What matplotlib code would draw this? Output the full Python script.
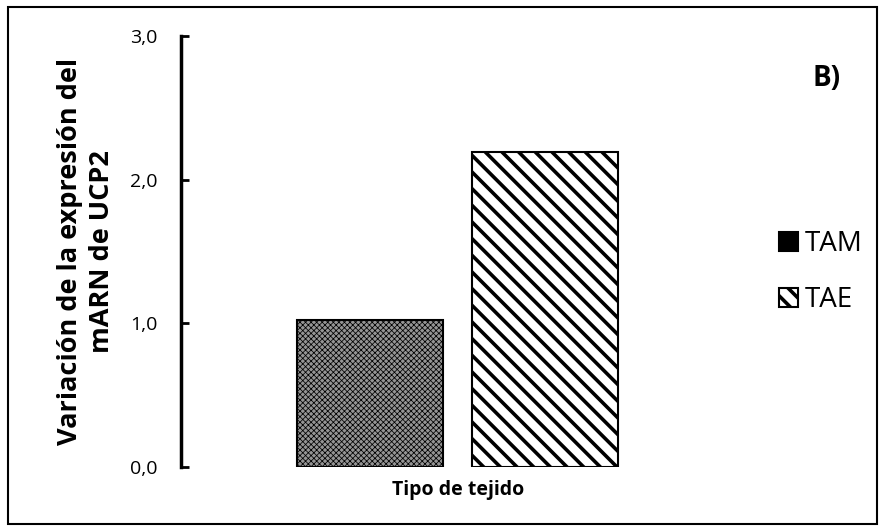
import matplotlib.pyplot as plt

plt.rcParams['font.family'] = ['Open Sans', 'DejaVu Sans']

# datos
categorias = ['TAM', 'TAE']
valores = [1.02, 2.19]
ticks_y = [0.0, 1.0, 2.0, 3.0]
etiquetas_y = ['0,0', '1,0', '2,0', '3,0']

fig = plt.figure(figsize=(8.84, 5.31), dpi=100)
ax = fig.add_axes([181 / 884, 1 - 467 / 531, (735 - 181) / 884, (467 - 36) / 531])

estilos = [dict(facecolor='#959595', hatch='xxxxxx'), dict(facecolor='white', hatch='\\\\')]
barras = []
for i, (cat, val) in enumerate(zip(categorias, valores)):
    plt.rcParams['hatch.linewidth'] = 0.55 if i == 0 else 2.6
    b = ax.bar(i, val, width=0.834, edgecolor='black', linewidth=1.5, label=cat, **estilos[i])
    barras.append(b)

ax.set_xlim(-1.08, 2.086)
ax.set_ylim(0, 3)
ax.set_yticks(ticks_y)
ax.set_yticklabels(etiquetas_y, fontsize=14)
ax.set_xticks([])
ax.tick_params(axis='y', direction='in', length=6, width=2, pad=17)
for s in ['top', 'right', 'bottom']:
    ax.spines[s].set_visible(False)
ax.spines['left'].set_linewidth(2.5)

ax.set_ylabel('Variación de la expresión del\nmARN de UCP2', fontsize=19.5, fontweight='bold', labelpad=11,
              linespacing=1.3)
ax.set_xlabel('Tipo de tejido', fontsize=14, fontweight='bold', labelpad=9)

fig.text(827 / 884, 1 - 78 / 531, 'B)', fontsize=20, fontweight='bold', ha='center', va='center')

fig.legend(handles=barras, labels=categorias, loc='center left', bbox_to_anchor=(779 / 884, 1 - 272 / 531),
           frameon=False, fontsize=20, handlelength=0.68, handleheight=0.68, handletextpad=0.25,
           labelspacing=1.0, borderpad=0, borderaxespad=0)

# marco exterior
fig.patches.append(plt.Rectangle((8 / 884, 7 / 531), 869 / 884, 517 / 531, transform=fig.transFigure,
                                 fill=False, edgecolor='black', linewidth=1.5))

fig.savefig('out.png', dpi=100)
